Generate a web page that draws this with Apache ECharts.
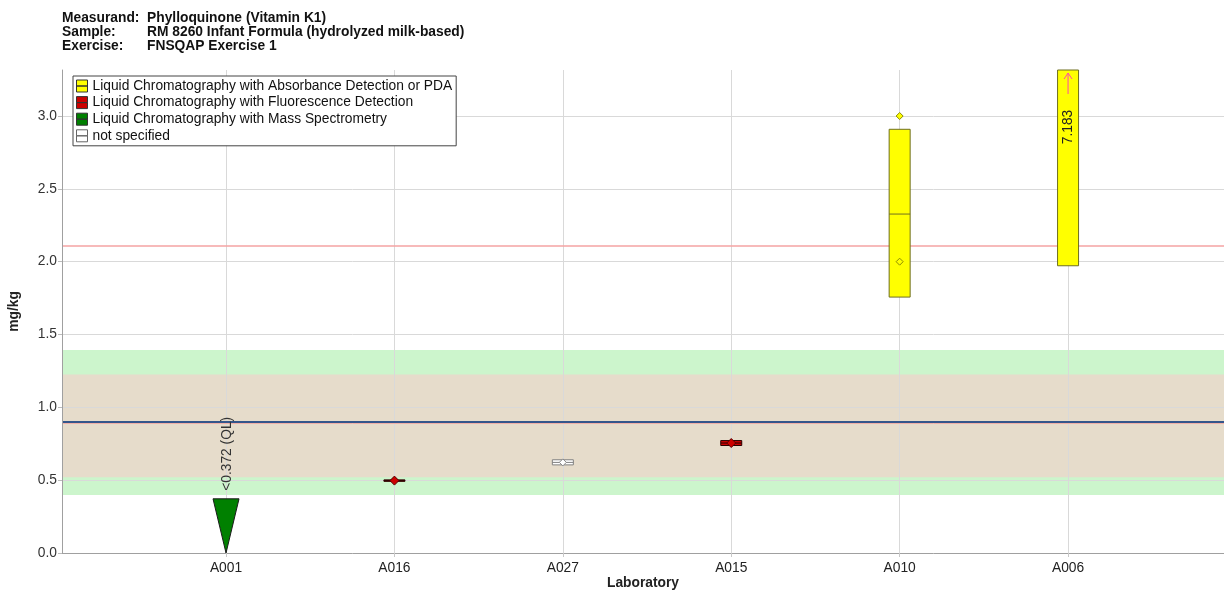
<!DOCTYPE html>
<html>
<head>
<meta charset="utf-8">
<script src="https://cdn.jsdelivr.net/npm/echarts@6/dist/echarts.min.js"></script>
<style>html,body{margin:0;padding:0;background:#fff;}#c{width:1224px;height:590px;}</style>
</head>
<body>
<div id="c"></div>
<script>
// ---- data ----
const labs = ['A001', 'A016', 'A027', 'A015', 'A010', 'A006'];
const methods = [
  'Liquid Chromatography with Absorbance Detection or PDA',
  'Liquid Chromatography with Fluorescence Detection',
  'Liquid Chromatography with Mass Spectrometry',
  'not specified'
];
const labMethod = [2, 1, 3, 1, 0, 0];
const boxLow    = [null, 0.492, 0.605, 0.738, 1.757, 1.972];
const boxHigh   = [null, 0.502, 0.640, 0.772, 2.909, 7.183];
const boxMedian = [null, 0.497, 0.622, 0.755, 2.327, null];
const qlValue   = [0.372, null, null, null, null, null];
const pointLab   = [1, 2, 3, 4, 4];
const pointValue = [0.497, 0.622, 0.755, 2.0, 3.0];
const yTicks = [0, 0.5, 1.0, 1.5, 2.0, 2.5, 3.0];
const consensus = 0.897;
const innerBand = [0.52, 1.225];
const outerBand = [0.398, 1.394];
const redLineValue = 2.107;
const titleRows = [
  ['Measurand:', 'Phylloquinone (Vitamin K1)'],
  ['Sample:', 'RM 8260 Infant Formula (hydrolyzed milk-based)'],
  ['Exercise:', 'FNSQAP Exercise 1']
];

// ---- styles ----
const FONT = 'Arial, "Liberation Sans", sans-serif';
const FS = 13.8;
const fillColors = ['#ffff00', '#cc0000', '#008000', '#ffffff'];
const borderColors = ['#6f6f20', '#2a0000', '#1a1a1a', '#808080'];
const pointBorder = ['#8c8c00', '#550000', '#1a1a1a', '#888888'];
const yMax = 3.316;
const xMin = 0.026, xMax = 6.926;
const labIdx = labs.map((_, i) => i + 1);

const chart = echarts.init(document.getElementById('c'), null, {renderer: 'canvas'});

function boxRender(params, api) {
  const m = params.seriesIndex - 2;
  const x = api.value(0), lo = api.value(1), hi = api.value(2), med = api.value(3);
  const cs = params.coordSys;
  const pLo = api.coord([x, lo]);
  const pHi = api.coord([x, hi]);
  const top = cs.y;
  const yTop = Math.max(pHi[1], top);
  const w = 21;
  const children = [{
    type: 'rect',
    shape: {x: pLo[0] - w / 2, y: yTop, width: w, height: Math.max(pLo[1] - yTop, 1)},
    style: {fill: fillColors[m], stroke: borderColors[m], lineWidth: 1}
  }];
  if (!isNaN(med) && med !== null) {
    const pm = api.coord([x, med]);
    children.push({type: 'line', shape: {x1: pm[0] - w / 2, y1: pm[1], x2: pm[0] + w / 2, y2: pm[1]},
      style: {stroke: borderColors[m], lineWidth: 1}});
  }
  if (pHi[1] < top) {
    const cx = pLo[0];
    children.push({type: 'line', shape: {x1: cx, y1: top + 24, x2: cx, y2: top + 3},
      style: {stroke: '#ff4da6', lineWidth: 1}});
    children.push({type: 'polyline', shape: {points: [[cx - 4, top + 9], [cx, top + 3], [cx + 4, top + 9]]},
      style: {stroke: '#ff4da6', lineWidth: 1, fill: null}});
    children.push({type: 'text', x: cx, y: top + 57, rotation: Math.PI / 2,
      style: {text: hi.toFixed(3), x: 0, y: 0, align: 'center', verticalAlign: 'middle',
        fill: '#222', font: FS + 'px ' + FONT}});
  }
  return {type: 'group', children};
}

function qlRender(params, api) {
  const x = api.value(0), v = api.value(1);
  const pq = api.coord([x, v]);
  const p0 = api.coord([x, 0]);
  return {type: 'group', children: [
    {type: 'polygon', shape: {points: [[pq[0] - 13, pq[1]], [pq[0] + 13, pq[1]], [p0[0], p0[1]]]},
      style: {fill: fillColors[2], stroke: borderColors[2], lineWidth: 1}},
    {type: 'text', x: pq[0] + 1, y: pq[1] - 8, rotation: Math.PI / 2,
      style: {text: '<' + v.toFixed(3) + ' (QL)', x: 0, y: 0, align: 'left', verticalAlign: 'middle',
        fill: '#333', font: FS + 'px ' + FONT}}
  ]};
}

const series = [];
// background bands
series.push({
  type: 'scatter', name: 'bands', data: [], silent: true,
  markArea: {
    silent: true, z: 0,
    data: [
      [{yAxis: outerBand[0], itemStyle: {color: '#ccf5cc'}}, {yAxis: outerBand[1]}],
      [{yAxis: innerBand[0], itemStyle: {color: '#e6dccb'}}, {yAxis: innerBand[1]}]
    ]
  }
});
// grid + reference lines
const gridLines = [];
yTicks.slice(1).forEach(v => gridLines.push({yAxis: v, lineStyle: {color: '#d9d9d9', width: 1, type: 'solid'}}));
gridLines.push({yAxis: yMax, lineStyle: {color: '#cfcfcf', width: 1, type: 'solid'}});
labIdx.forEach(v => gridLines.push({xAxis: v, lineStyle: {color: '#d9d9d9', width: 1, type: 'solid'}}));
gridLines.push({yAxis: redLineValue, lineStyle: {color: '#f4a3a3', width: 1.5, type: 'solid'}});
gridLines.push({yAxis: consensus - 0.009, lineStyle: {color: '#f0b0a8', width: 1, type: 'solid'}});
gridLines.push({yAxis: consensus, lineStyle: {color: '#34568b', width: 2, type: 'solid'}});
series.push({
  type: 'scatter', name: 'grid', data: [], silent: true,
  markLine: {silent: true, z: 1, symbol: ['none', 'none'], label: {show: false}, data: gridLines}
});
// boxes per method
methods.forEach((name, m) => {
  const d = [];
  labs.forEach((l, i) => {
    if (labMethod[i] === m && boxLow[i] !== null) d.push([i + 1, boxLow[i], boxHigh[i], boxMedian[i]]);
  });
  series.push({type: 'custom', name, renderItem: boxRender, data: d, z: 10, clip: false,
    itemStyle: {color: fillColors[m], borderColor: borderColors[m]}, encode: {x: 0, y: 1}});
});
// QL triangles
series.push({type: 'custom', name: methods[2], renderItem: qlRender, z: 10,
  data: labs.map((l, i) => qlValue[i] !== null ? [i + 1, qlValue[i]] : null).filter(Boolean),
  itemStyle: {color: fillColors[2]}, encode: {x: 0, y: 1}});
// diamonds
methods.forEach((name, m) => {
  const d = [];
  pointLab.forEach((li, k) => { if (labMethod[li] === m) d.push([li + 1, pointValue[k]]); });
  if (d.length) series.push({type: 'scatter', name, data: d, symbol: 'diamond', symbolSize: m === 1 ? 9 : 7, z: 12,
    itemStyle: {color: fillColors[m], borderColor: pointBorder[m], borderWidth: 1, opacity: 1}});
});

const iconPath = 'path://M0,0H11V6H0Z M0,6H11V12H0Z';
const option = {
  animation: false,
  textStyle: {fontFamily: FONT},
  grid: {left: 62, right: 0, top: 70, bottom: 37, containLabel: false, outerBoundsMode: 'none'},
  legend: {
    orient: 'vertical', left: 73, top: 76, padding: [3, 4, 3, 3], itemGap: 2.6,
    itemWidth: 11, itemHeight: 12, backgroundColor: '#fff', borderColor: '#444', borderWidth: 1,
    textStyle: {fontSize: FS, color: '#111', fontFamily: FONT}, selectedMode: false,
    data: methods.map((name, m) => ({name, icon: iconPath,
      itemStyle: {color: fillColors[m], borderColor: m === 3 ? '#666' : '#333', borderWidth: 1}}))
  },
  xAxis: {
    type: 'value', min: xMin, max: xMax, z: 6,
    name: 'Laboratory', nameLocation: 'middle', nameGap: 23, nameMoveOverlap: false,
    nameTextStyle: {fontWeight: 'bold', fontSize: FS, color: '#222', fontFamily: FONT},
    axisLine: {lineStyle: {color: '#a0a0a0'}},
    axisTick: {customValues: labIdx, length: 4, lineStyle: {color: '#c8c8c8'}},
    axisLabel: {customValues: labIdx, formatter: v => labs[Math.round(v) - 1] || '', fontSize: FS, color: '#222', margin: 8},
    splitLine: {show: false}
  },
  yAxis: {
    type: 'value', min: 0, max: yMax, z: 6,
    name: 'mg/kg', nameLocation: 'middle', nameGap: 41, nameRotate: 90, nameMoveOverlap: false,
    nameTextStyle: {fontWeight: 'bold', fontSize: FS, color: '#222', fontFamily: FONT},
    axisLine: {show: true, lineStyle: {color: '#a0a0a0'}},
    axisTick: {show: true, customValues: yTicks, length: 4, lineStyle: {color: '#bbb'}},
    axisLabel: {customValues: yTicks, formatter: v => v.toFixed(1), fontSize: FS, color: '#333', margin: 5},
    splitLine: {show: false}
  },
  graphic: titleRows.flatMap((r, i) => [
    {type: 'text', left: 62, top: 11 + i * 14, style: {text: r[0], font: 'bold ' + FS + 'px ' + FONT, fill: '#111'}},
    {type: 'text', left: 147, top: 11 + i * 14, style: {text: r[1], font: 'bold ' + FS + 'px ' + FONT, fill: '#111'}}
  ]),
  series
};
chart.setOption(option);
</script>
</body>
</html>
